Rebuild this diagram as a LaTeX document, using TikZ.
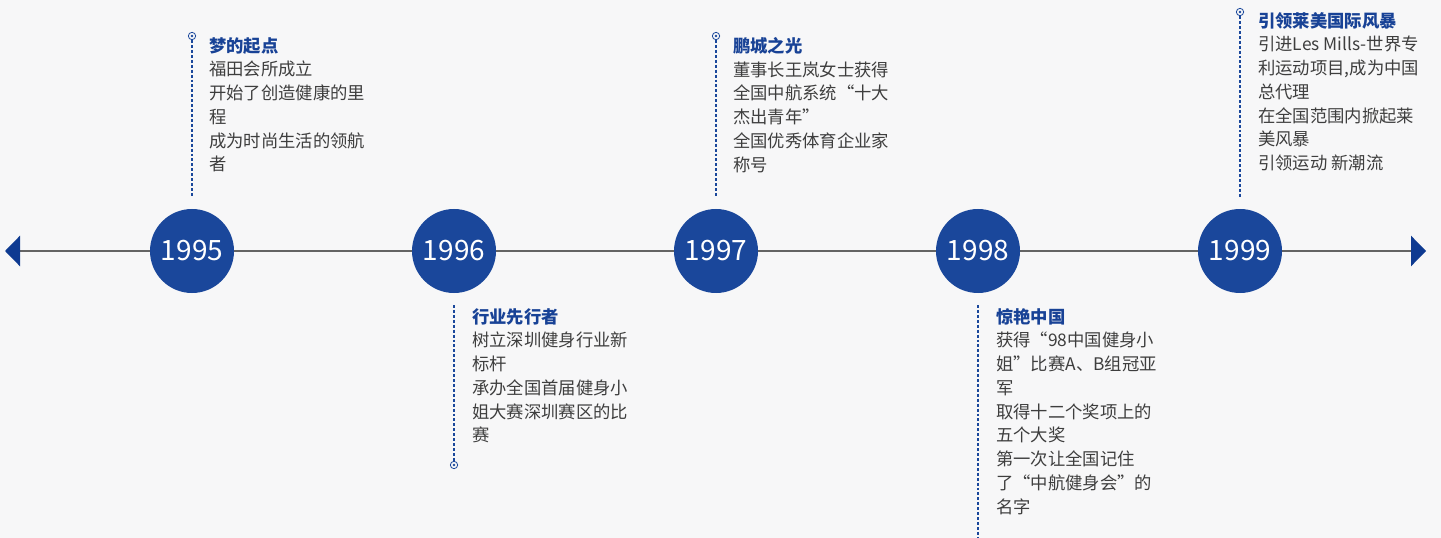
\documentclass[tikz,border=0pt]{standalone}
\usepackage{fontspec}
\setmainfont{Noto Sans CJK SC}
\usetikzlibrary{positioning,arrows.meta}

\definecolor{yearblue}{RGB}{26,71,155}
\definecolor{tipblue}{RGB}{14,58,145}
\definecolor{titleblue}{RGB}{24,66,150}
\definecolor{bodygray}{RGB}{62,62,62}
\definecolor{linegray}{RGB}{100,100,100}
\definecolor{bggray}{RGB}{247,247,248}

\tikzset{
  year/.style={circle,fill=yearblue,text=white,minimum size=63pt,inner sep=0pt,
    font=\fontsize{21}{24}\selectfont},
  story/.style={anchor=north west,align=left,inner sep=0pt,text=bodygray,
    font=\fontsize{13}{17.8}\selectfont},
  guide/.style={draw=yearblue,line width=0.8pt,dash pattern=on 2.2pt off 1.5pt},
  pin/.style={circle,draw=yearblue,line width=0.6pt,minimum size=5.5pt,inner sep=0pt,
    path picture={\fill[yearblue] (path picture bounding box.center) circle (1pt);}},
}
\newcommand{\headline}[1]{{\bfseries\color{titleblue}#1}}

\begin{document}
\begin{tikzpicture}[x=0.75pt,y=-0.75pt]

        \fill[bggray] (0,0) rectangle (1441,538);
        \useasboundingbox (0,0) rectangle (1441,538);

        % axis
        \coordinate (tl) at (5,251);
        \coordinate (tr) at (1426,251);
        \draw[linegray,line width=2pt,
          {Triangle[length=11.25pt,width=22.5pt,color=tipblue]}-{Triangle[length=11.25pt,width=22.5pt,color=tipblue]}]
          (tl) -- (tr);

        \begin{scope}[every node/.style={year}]
          \node (y95) at (192,251)  {1995};
          \node (y96) at (454,251)  {1996};
          \node (y97) at (716,251)  {1997};
          \node (y98) at (978,251)  {1998};
          \node (y99) at (1240,251) {1999};
        \end{scope}

        % guides
        \node[pin] (p95) at (192,36)  {};
        \node[pin] (p96) at (454,465) {};
        \node[pin] (p97) at (716,36)  {};
        \node[pin] (p99) at (1240,12) {};
        \coordinate (d95) at (192,197);
        \coordinate (d96) at (454,305);
        \coordinate (d97) at (716,197);
        \coordinate (d98) at (978,305);
        \coordinate (e98) at (978,540);
        \coordinate (d99) at (1240,197);
        \draw[guide] (p95) -- (d95);
        \draw[guide] (d96) -- (p96);
        \draw[guide] (p97) -- (d97);
        \draw[guide] (d98) -- (e98);
        \draw[guide] (p99) -- (d99);

        % stories
        \node[story] (s95) at (209,37) {\headline{梦的起点}\\福田会所成立\\开始了创造健康的里\\程\\成为时尚生活的领航\\者};
        \node[story] (s96) at (472,308) {\headline{行业先行者}\\树立深圳健身行业新\\标杆\\承办全国首届健身小\\姐大赛深圳赛区的比\\赛};
        \node[story] (s97) at (733,37) {\headline{鹏城之光}\\董事长王岚女士获得\\全国中航系统“十大\\杰出青年”\\全国优秀体育企业家\\称号};
        \node[story] (s98) at (996,308) {\headline{惊艳中国}\\获得“98中国健身小\\姐”比赛A、B组冠亚\\军\\取得十二个奖项上的\\五个大奖\\第一次让全国记住\\了“中航健身会”的\\名字};
        \node[story] (s99) at (1258,12) {\headline{引领莱美国际风暴}\\引进Les Mills-世界专\\利运动项目,成为中国\\总代理\\在全国范围内掀起莱\\美风暴\\引领运动 新潮流};

      \end{tikzpicture}
\end{document}
